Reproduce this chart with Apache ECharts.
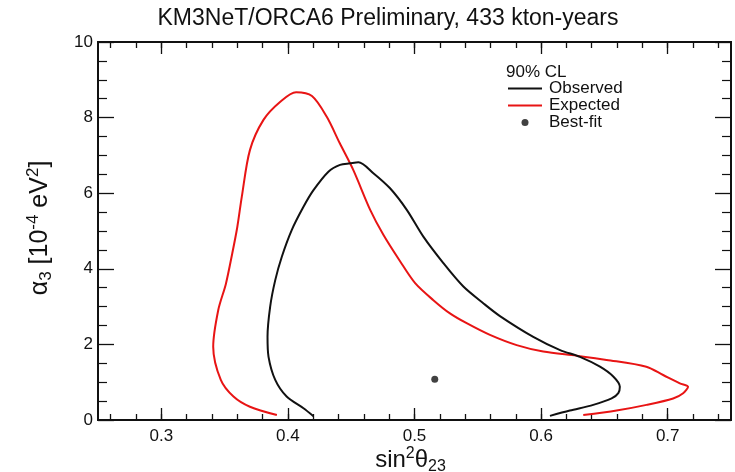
<!DOCTYPE html>
<html>
<head>
<meta charset="utf-8">
<script src="https://cdn.jsdelivr.net/npm/echarts@6/dist/echarts.min.js"></script>
<style>html,body{margin:0;padding:0;background:#fff}#c{width:735px;height:472px}</style>
</head>
<body>
<div id="c"></div>
<script>
// ---- data ----
const chartTitle = 'KM3NeT/ORCA6 Preliminary, 433 kton-years';
const clLabel = '90% CL';
const seriesNames = ['Observed', 'Expected', 'Best-fit'];
const xTicks = [0.3, 0.4, 0.5, 0.6, 0.7];
const yTicks = [0, 2, 4, 6, 8, 10];

const observed = [
  [0.4202,0.10],[0.4123,0.31],[0.399,0.62],[0.390,1.06],[0.3847,1.67],[0.3839,2.20],
  [0.386,3.00],[0.390,3.70],[0.3952,4.32],[0.4031,5.03],[0.4123,5.64],[0.4202,6.08],
  [0.432,6.57],[0.4412,6.75],[0.4491,6.79],[0.4557,6.82],[0.4675,6.53],[0.4807,6.13],
  [0.4939,5.56],[0.507,4.85],[0.5228,4.15],[0.5386,3.53],[0.5543,3.09],
  [0.5675,2.75],[0.5938,2.20],[0.615,1.85],[0.6307,1.67],[0.6465,1.41],[0.657,1.15],
  [0.6622,0.88],[0.661,0.71],[0.6557,0.57],[0.6412,0.40],[0.6227,0.25],[0.607,0.11]
];
const expected = [
  [0.3913,0.13],[0.370,0.35],[0.357,0.62],[0.347,1.06],[0.341,1.94],[0.345,2.91],
  [0.351,3.60],[0.356,4.40],[0.360,5.10],[0.3636,5.91],[0.370,7.14],[0.3807,7.94],
  [0.394,8.42],[0.4065,8.67],[0.419,8.57],[0.4307,8.02],[0.441,7.32],[0.4517,6.61],
  [0.465,5.56],[0.4754,4.90],[0.4886,4.20],[0.5005,3.62],[0.5149,3.17],[0.528,2.82],
  [0.5412,2.56],[0.5596,2.25],[0.5807,1.98],[0.6017,1.81],[0.628,1.70],[0.6517,1.59],
  [0.6831,1.41],[0.6964,1.19],[0.7096,0.97],[0.7161,0.88],[0.7122,0.71],[0.7043,0.57],
  [0.6833,0.40],[0.6596,0.25],[0.6333,0.13]
];
const bestFit = [[0.516, 1.08]];

// minor tick positions along x (every 0.02)
const xMinorTicks = [];
for (let i = 13; i <= 37; i++) xMinorTicks.push(+(i * 0.02).toFixed(2));

const FONT = '"Liberation Sans", Arial, Helvetica, sans-serif';
const chart = echarts.init(document.getElementById('c'), null, {renderer: 'canvas'});

function richName(main, small) {
  return {
    a: {fontSize: main, fontFamily: FONT, color: '#111', lineHeight: main + 5, verticalAlign: 'middle'},
    sup: {fontSize: small, fontFamily: FONT, color: '#111', lineHeight: small, verticalAlign: 'top'},
    sub: {fontSize: small, fontFamily: FONT, color: '#111', lineHeight: small, verticalAlign: 'bottom'}
  };
}

function xAx(pos, ticks, len, extra) {
  return Object.assign({
    type: 'value', min: 0.25, max: 0.75, position: pos,
    axisLine: {show: true, onZero: false, lineStyle: {color: '#111', width: 2}},
    axisTick: {show: true, inside: true, length: len, lineStyle: {color: '#111', width: 1.3},
      customValues: ticks},
    axisLabel: {show: false},
    minorTick: {show: false},
    splitLine: {show: false},
  }, extra || {});
}
function yAx(pos, extra) {
  return Object.assign({
    type: 'value', min: 0, max: 10, interval: 2, position: pos,
    axisLine: {show: true, onZero: false, lineStyle: {color: '#111', width: 2}},
    axisTick: {show: true, inside: true, length: 16, lineStyle: {color: '#111', width: 1.3}},
    minorTick: {show: true, splitNumber: 4, length: 9, lineStyle: {color: '#111', width: 1.2}},
    axisLabel: {show: false},
    splitLine: {show: false},
  }, extra || {});
}

chart.setOption({
  animation: false,
  backgroundColor: '#fff',
  title: [
    {text: chartTitle, left: 383, top: 2, textAlign: 'center',
      textStyle: {fontFamily: FONT, fontSize: 23, fontWeight: 'normal', color: '#111'}},
    {text: clLabel, left: 501, top: 59,
      textStyle: {fontFamily: FONT, fontSize: 17, fontWeight: 'normal', color: '#111'}}
  ],
  legend: {
    orient: 'vertical', left: 507, top: 80, padding: 0, itemWidth: 34, itemHeight: 7, itemGap: 0,
    textStyle: {fontFamily: FONT, fontSize: 17, color: '#111', lineHeight: 16, padding: [0,0,0,2]},
    data: [
      {name: seriesNames[0], itemStyle: {color: 'rgba(0,0,0,0)', borderWidth: 0}},
      {name: seriesNames[1], itemStyle: {color: 'rgba(0,0,0,0)', borderWidth: 0}},
      {name: seriesNames[2]}
    ]
  },
  grid: {left: 98, right: 4, top: 42, bottom: 52, containLabel: false, outerBoundsMode: 'none'},
  xAxis: [
    xAx('bottom', xTicks, 12, {
      name: '{a|sin}{sup|2}{a|θ}{sub|23}', nameLocation: 'middle', nameGap: 26, nameMoveOverlap: false,
      nameTextStyle: {rich: richName(24, 16), padding: [0, 8, 0, 0]},
      axisLabel: {show: true, margin: 8, fontFamily: FONT, fontSize: 17, color: '#111',
        customValues: xTicks, formatter: v => String(Math.round(v*10)/10)}
    }),
    xAx('bottom', xMinorTicks, 6),
    xAx('top', xTicks, 12),
    xAx('top', xMinorTicks, 6)
  ],
  yAxis: [
    yAx('left', {
      name: '{a|α}{sub|3}{a| [10}{sup|-4}{a| eV}{sup|2}{a|]}', nameLocation: 'middle', nameGap: 43,
      nameMoveOverlap: false,
      nameRotate: 90, nameTextStyle: {rich: richName(25, 17), padding: [0, 0, 0, 6]},
      axisLabel: {show: true, margin: 5, fontFamily: FONT, fontSize: 17, color: '#111',
        formatter: v => (yTicks.indexOf(v) >= 0 ? String(v) : '')}
    }),
    yAx('right')
  ],
  series: [
    {name: seriesNames[0], type: 'line', data: observed, showSymbol: false, symbol: 'none',
      smooth: 0.3, lineStyle: {color: '#111', width: 2}, itemStyle: {color: '#111'}, z: 3},
    {name: seriesNames[1], type: 'line', data: expected, showSymbol: false, symbol: 'none',
      smooth: 0.3, lineStyle: {color: '#e81414', width: 2}, itemStyle: {color: '#e81414'}, z: 2},
    {name: seriesNames[2], type: 'scatter', data: bestFit, symbol: 'circle', symbolSize: 7,
      itemStyle: {color: '#111'}, z: 4}
  ]
});
</script>
</body>
</html>
